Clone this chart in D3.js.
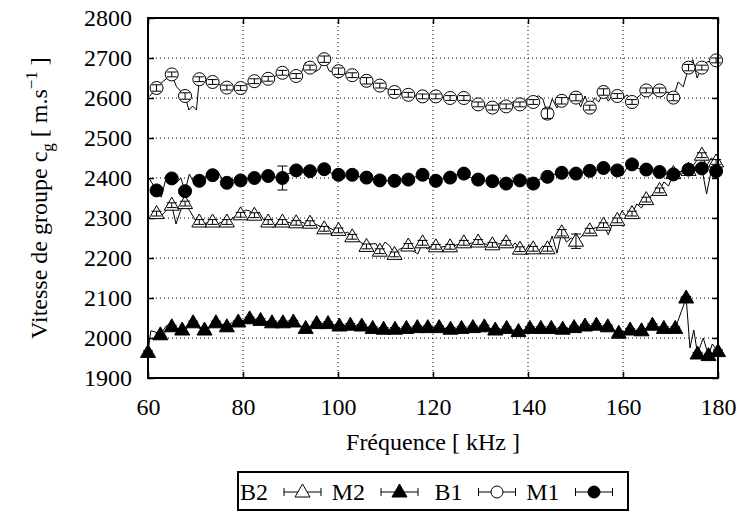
<!DOCTYPE html>
<html>
<head>
<meta charset="utf-8">
<script src="https://cdn.jsdelivr.net/npm/d3@7"></script>
<style>
body { margin: 0; background: #fff; }
text { font-family: "Liberation Serif", "Times New Roman", serif; fill: #000; }
</style>
</head>
<body>
<svg width="742" height="512"></svg>
<script>
// frequencies (kHz) of the marked points for the circle and open-triangle series
var freqA = [61.8, 65.0, 67.8, 70.8, 73.6, 76.6, 79.5, 82.4, 85.3, 88.3, 91.2, 94.1, 97.1, 100.1,
  103.0, 106.0, 108.8, 111.9, 114.8, 117.8, 120.6, 123.6, 126.5, 129.5, 132.5, 135.4, 138.3,
  141.1, 144.1, 147.1, 150.1, 153.0, 155.9, 158.8, 161.9, 164.9, 167.7, 170.6, 173.8, 176.6, 179.6];
// frequencies of the marked points for the filled-triangle series
var freqB = [60.0, 62.6, 65.0, 67.2, 69.5, 71.9, 74.3, 76.6, 79.0, 81.4, 83.7, 86.1, 88.4, 90.6,
  93.2, 95.5, 97.9, 100.3, 102.6, 105.0, 107.3, 109.6, 112.0, 114.4, 116.7, 118.9, 121.3, 123.7,
  126.0, 128.4, 130.8, 133.1, 135.5, 138.0, 140.4, 142.7, 144.9, 147.3, 149.7, 152.0, 154.4,
  156.8, 159.1, 161.5, 163.9, 166.2, 168.6, 171.0, 173.3, 175.7, 178.0, 180.0];

// group velocity (m/s) at the marked points
var b1 = [2625, 2659, 2605, 2647, 2640, 2626, 2625, 2642, 2648, 2663, 2655, 2676, 2697, 2667,
  2657, 2643, 2631, 2615, 2608, 2604, 2604, 2600, 2600, 2584, 2576, 2579, 2584, 2590, 2561,
  2593, 2601, 2576, 2615, 2605, 2590, 2619, 2619, 2601, 2676, 2676, 2694];
var m1 = [2369, 2399, 2367, 2393, 2407, 2388, 2394, 2400, 2405, 2400, 2419, 2417, 2422, 2408,
  2408, 2401, 2394, 2393, 2396, 2408, 2393, 2401, 2411, 2396, 2392, 2386, 2394, 2386, 2403,
  2413, 2411, 2418, 2425, 2419, 2434, 2421, 2415, 2409, 2421, 2424, 2417];
var b2 = [2311, 2332, 2336, 2290, 2290, 2290, 2308, 2307, 2290, 2290, 2288, 2287, 2273, 2269,
  2253, 2229, 2217, 2209, 2230, 2238, 2228, 2228, 2238, 2240, 2233, 2238, 2222, 2223, 2223,
  2263, 2242, 2268, 2282, 2294, 2311, 2346, 2369, 2411, 2419, 2457, 2440];
var m2 = [1964, 2008, 2028, 2020, 2038, 2020, 2038, 2028, 2040, 2048, 2044, 2038, 2038, 2040,
  2024, 2036, 2036, 2030, 2032, 2030, 2024, 2022, 2022, 2024, 2026, 2026, 2026, 2022, 2024,
  2026, 2028, 2020, 2024, 2016, 2024, 2024, 2024, 2022, 2026, 2030, 2032, 2028, 2012, 2020,
  2018, 2032, 2024, 2024, 2100, 1960, 1956, 1966];

// unmarked measurements in between (kHz, m/s), joined by the thin line only
var b1Line = [[60.3, 2604], [63.0, 2640], [66.0, 2628], [66.9, 2617], [68.6, 2570], [69.4, 2580],
  [70.2, 2570], [71.8, 2645], [72.7, 2642], [74.6, 2636], [75.6, 2630], [77.6, 2622], [78.5, 2624],
  [80.5, 2635], [81.4, 2634], [83.4, 2632], [84.3, 2648], [86.3, 2650], [87.3, 2660], [89.3, 2660],
  [90.2, 2650], [92.2, 2660], [93.2, 2690], [95.1, 2665], [96.1, 2672], [98.1, 2668], [99.1, 2664],
  [101.1, 2660], [102.0, 2662], [104.0, 2652], [105.0, 2648], [107.0, 2637], [108.0, 2634],
  [109.9, 2625], [110.9, 2620], [112.9, 2612], [113.8, 2610], [115.8, 2606], [116.8, 2605],
  [118.8, 2603], [119.7, 2605], [121.6, 2603], [122.6, 2601], [124.6, 2601], [125.5, 2600],
  [127.5, 2596], [128.5, 2590], [130.5, 2582], [131.5, 2578], [133.5, 2582], [134.4, 2590],
  [136.4, 2588], [137.3, 2592], [139.2, 2592], [140.2, 2602], [142.1, 2606], [143.1, 2598],
  [145.1, 2598], [146.1, 2575], [148.1, 2596], [149.1, 2604], [151.1, 2578], [152.0, 2605],
  [154.0, 2600], [154.9, 2590], [156.9, 2592], [157.8, 2607], [159.8, 2598], [160.9, 2608],
  [162.9, 2600], [163.9, 2610], [165.8, 2614], [166.8, 2610], [168.6, 2612], [169.6, 2615],
  [171.6, 2640], [172.7, 2628], [174.7, 2696], [175.6, 2650], [177.6, 2690], [178.6, 2692]];
var m1Line = [[60.2, 2400], [62.8, 2352], [63.9, 2405], [66.0, 2388], [66.9, 2400], [68.7, 2410],
  [69.8, 2385], [71.8, 2395], [72.7, 2418], [74.6, 2418], [75.6, 2398], [77.6, 2396], [78.5, 2393],
  [80.5, 2398], [81.4, 2399], [83.4, 2402], [84.3, 2404], [86.3, 2405], [87.3, 2400], [89.3, 2410],
  [90.2, 2413], [92.2, 2417], [93.2, 2412], [95.1, 2415], [96.1, 2420], [98.1, 2415], [99.1, 2410],
  [101.1, 2406], [102.0, 2404], [104.0, 2405], [105.0, 2402], [107.0, 2398], [108.0, 2396],
  [109.9, 2392], [110.9, 2394], [112.9, 2395], [113.8, 2397], [115.8, 2400], [116.8, 2406],
  [118.8, 2400], [119.7, 2395], [121.6, 2398], [122.6, 2400], [124.6, 2407], [125.5, 2410],
  [127.5, 2403], [128.5, 2398], [130.5, 2395], [131.5, 2393], [133.5, 2390], [134.4, 2388],
  [136.4, 2392], [137.3, 2396], [139.2, 2390], [140.2, 2400], [142.1, 2395], [143.1, 2400],
  [145.1, 2408], [146.1, 2410], [148.1, 2412], [149.1, 2412], [151.1, 2414], [152.0, 2416],
  [154.0, 2420], [154.9, 2422], [156.9, 2420], [157.8, 2422], [159.8, 2405], [160.8, 2425],
  [162.9, 2425], [163.9, 2422], [165.8, 2418], [166.8, 2416], [168.6, 2412], [169.6, 2410],
  [171.6, 2415], [172.7, 2418], [174.7, 2422], [175.6, 2425], [177.6, 2360], [178.6, 2420]];
var b2Line = [[60.3, 2300], [62.8, 2305], [63.9, 2320], [65.9, 2285], [66.9, 2320], [68.8, 2318],
  [69.8, 2298], [71.8, 2285], [72.7, 2290], [74.6, 2285], [75.6, 2290], [77.6, 2298], [78.5, 2305],
  [80.5, 2320], [81.4, 2318], [83.4, 2315], [84.3, 2296], [86.3, 2276], [87.3, 2290], [89.3, 2290],
  [90.2, 2287], [92.2, 2290], [93.2, 2286], [95.1, 2285], [96.1, 2280], [98.1, 2276], [99.1, 2270],
  [101.1, 2260], [102.0, 2265], [104.0, 2245], [105.0, 2238], [107.0, 2235], [108.0, 2236],
  [109.9, 2240], [110.9, 2230], [112.9, 2222], [113.8, 2226], [115.8, 2218], [116.8, 2210],
  [118.8, 2222], [119.7, 2230], [121.6, 2227], [122.6, 2229], [124.6, 2231], [125.5, 2235],
  [127.5, 2236], [128.5, 2238], [130.5, 2236], [131.5, 2234], [133.5, 2235], [134.4, 2236],
  [136.4, 2225], [137.3, 2238], [139.2, 2212], [140.2, 2234], [142.1, 2216], [143.1, 2230],
  [145.1, 2255], [146.1, 2212], [148.1, 2240], [149.1, 2250], [151.1, 2252], [152.0, 2262],
  [154.0, 2275], [154.9, 2278], [156.9, 2258], [157.8, 2285], [159.8, 2318], [160.9, 2300],
  [162.9, 2335], [163.9, 2325], [165.8, 2355], [166.8, 2360], [168.6, 2390], [169.6, 2380],
  [171.6, 2400], [172.7, 2425], [174.7, 2430], [175.6, 2445], [177.6, 2430], [178.6, 2450]];
var m2Line = [[60.6, 2018], [61.6, 2015], [63.8, 2030], [66.1, 2015], [68.4, 2032], [70.7, 2025],
  [73.1, 2030], [75.5, 2035], [77.8, 2040], [80.2, 2045], [174.1, 1975], [174.9, 2020],
  [176.9, 2000], [178.8, 1985]];

// error bar half-heights (m/s) at the marked points
var b1Err = [8, 6, 8, 6, 6, 6, 6, 6, 6, 6, 6, 6, 8, 8, 6, 8, 6, 6, 6, 6, 6, 6, 6, 6, 6, 6, 6,
  6, 12, 8, 8, 6, 8, 6, 6, 6, 6, 8, 8, 6, 6];
var m1Err = [6, 6, 6, 6, 6, 6, 6, 6, 6, 30, 8, 6, 6, 6, 6, 6, 6, 6, 6, 6, 6, 6, 6, 6, 6, 6, 6,
  6, 6, 6, 6, 6, 6, 6, 6, 6, 6, 6, 6, 6, 6];
var b2Err = [6, 6, 6, 6, 6, 6, 6, 6, 6, 6, 6, 6, 6, 6, 6, 6, 6, 6, 6, 6, 6, 6, 6, 6, 6, 6, 6,
  6, 6, 8, 18, 6, 6, 6, 6, 6, 6, 6, 6, 6, 6];
var m2Err = [4, 4, 4, 4, 4, 4, 4, 4, 4, 4, 4, 4, 4, 4, 4, 4, 4, 4, 4, 4, 4, 4, 4, 4, 4, 4,
  4, 4, 4, 4, 4, 4, 4, 4, 4, 4, 4, 4, 4, 4, 4, 4, 4, 4, 4, 4, 4, 4, 4, 4, 4, 4];

var xTicks = [60, 80, 100, 120, 140, 160, 180];
var yTicks = [1900, 2000, 2100, 2200, 2300, 2400, 2500, 2600, 2700, 2800];

var svg = d3.select("svg");
var margin = {left: 148, right: 24, top: 18, bottom: 134};
var width = 742 - margin.left - margin.right,
    height = 512 - margin.top - margin.bottom;

var x = d3.scaleLinear().domain([60, 180]).range([margin.left, margin.left + width]);
var y = d3.scaleLinear().domain([1900, 2800]).range([margin.top + height, margin.top]);

// grid
var grid = svg.append("g").attr("class", "grid")
    .attr("stroke", "#000").attr("stroke-width", 1).attr("stroke-dasharray", "1,3");
grid.selectAll(".gx").data(xTicks.slice(1, -1)).enter().append("line")
    .attr("x1", function(d) { return x(d); }).attr("x2", function(d) { return x(d); })
    .attr("y1", y(2800)).attr("y2", y(1900));
grid.selectAll(".gy").data(yTicks.slice(1, -1)).enter().append("line")
    .attr("x1", x(60)).attr("x2", x(180))
    .attr("y1", function(d) { return y(d); }).attr("y2", function(d) { return y(d); });

// axes with inward ticks on all sides
function styleAxis(g) {
  g.select(".domain").remove();
  g.selectAll(".tick line").attr("stroke", "#000").attr("stroke-width", 1.5);
  g.selectAll(".tick text").attr("font-size", "24px")
      .attr("font-family", "'Liberation Serif', serif");
}
svg.append("g").attr("transform", "translate(0," + y(1900) + ")")
    .call(d3.axisBottom(x).tickValues(xTicks).tickSize(-6).tickPadding(20).tickFormat(d3.format("d")))
    .call(styleAxis);
svg.append("g").attr("transform", "translate(0," + y(2800) + ")")
    .call(d3.axisTop(x).tickValues(xTicks).tickSize(-6).tickFormat(""))
    .call(styleAxis);
svg.append("g").attr("transform", "translate(" + x(60) + ",0)")
    .call(d3.axisLeft(y).tickValues(yTicks).tickSize(-6).tickPadding(16).tickFormat(d3.format("d")))
    .call(styleAxis);
svg.append("g").attr("transform", "translate(" + x(180) + ",0)")
    .call(d3.axisRight(y).tickValues(yTicks).tickSize(-6).tickFormat(""))
    .call(styleAxis);

var plot = svg.append("g");

var triUp = "M0,-8L7.5,5L-7.5,5Z";

var series = [
  {name: "B2", fx: freqA, v: b2, err: b2Err, extra: b2Line, shape: "tri", fill: "#fff"},
  {name: "M2", fx: freqB, v: m2, err: m2Err, extra: m2Line, shape: "tri", fill: "#000"},
  {name: "B1", fx: freqA, v: b1, err: b1Err, extra: b1Line, shape: "circle", fill: "#fff"},
  {name: "M1", fx: freqA, v: m1, err: m1Err, extra: m1Line, shape: "circle", fill: "#000"}
];

var line = d3.line()
    .x(function(d) { return x(d[0]); })
    .y(function(d) { return y(d[1]); });

function drawMarker(g, shape, fill) {
  if (shape === "circle") {
    g.append("circle").attr("r", 6.5).attr("fill", fill).attr("stroke", "#000").attr("stroke-width", 1);
  } else {
    g.append("path").attr("d", triUp).attr("fill", fill).attr("stroke", "#000").attr("stroke-width", 1);
  }
}

series.forEach(function(s) {
  var pts = s.fx.map(function(f, i) { return [f, s.v[i], s.err[i]]; });
  var all = pts.concat(s.extra).sort(function(a, b) { return a[0] - b[0]; });
  plot.append("path").datum(all)
      .attr("fill", "none").attr("stroke", "#000").attr("stroke-width", 1)
      .attr("d", line);
  var pg = plot.selectAll(null).data(pts).enter().append("g")
      .attr("transform", function(d) { return "translate(" + x(d[0]) + "," + y(d[1]) + ")"; });
  pg.each(function(d) {
    var g = d3.select(this);
    drawMarker(g, s.shape, s.fill);
    var e = y(d[1] - d[2]) - y(d[1]);
    g.append("path")
        .attr("d", "M0," + (-e) + "V" + e + "M-5," + (-e) + "H5M-5," + e + "H5")
        .attr("stroke", "#000").attr("stroke-width", 1).attr("fill", "none");
  });
});

// frame
svg.append("rect")
    .attr("x", x(60)).attr("y", y(2800))
    .attr("width", x(180) - x(60)).attr("height", y(1900) - y(2800))
    .attr("fill", "none").attr("stroke", "#000").attr("stroke-width", 2);

// axis titles
svg.append("text")
    .attr("x", (x(60) + x(180)) / 2).attr("y", 450)
    .attr("text-anchor", "middle").attr("font-size", "24px")
    .text("Fréquence [ kHz ]");

var yl = svg.append("text")
    .attr("transform", "translate(47," + ((y(1900) + y(2800)) / 2) + ") rotate(-90)")
    .attr("text-anchor", "middle").attr("font-size", "24px");
yl.append("tspan").text("Vitesse de groupe c");
yl.append("tspan").attr("font-size", "17px").attr("dy", 6).text("g");
yl.append("tspan").attr("dy", -6).text(" [ m.s");
yl.append("tspan").attr("font-size", "17px").attr("dy", -10).text("\u22121");
yl.append("tspan").attr("dy", 10).text(" ]");

// legend
var legend = svg.append("g");
legend.append("rect").attr("x", 238).attr("y", 472).attr("width", 390).attr("height", 38)
    .attr("fill", "#fff").attr("stroke", "#000").attr("stroke-width", 2);
var sampleCx = [302.5, 399.5, 497, 594];
series.forEach(function(s, i) {
  var cx = sampleCx[i];
  legend.append("text").attr("x", cx - 18.5 - 16).attr("y", 500)
      .attr("text-anchor", "end").attr("font-size", "24px").text(s.name);
  var g = legend.append("g").attr("transform", "translate(" + cx + ",492)");
  g.append("path").attr("d", "M-18.5,0H18.5M-18.5,-4V4M18.5,-4V4")
      .attr("stroke", "#000").attr("stroke-width", 1).attr("fill", "none");
  if (s.shape === "circle") {
    g.append("circle").attr("r", 6).attr("fill", s.fill).attr("stroke", "#000");
  } else {
    g.append("path").attr("d", triUp).attr("fill", s.fill).attr("stroke", "#000");
  }
});
</script>
</body>
</html>
